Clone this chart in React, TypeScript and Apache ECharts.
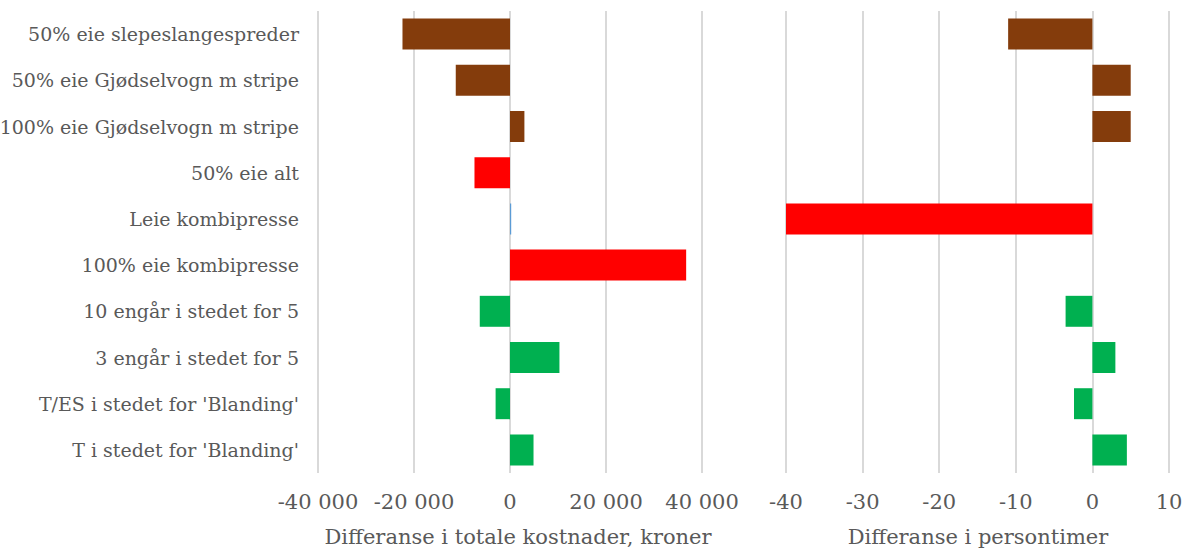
import React, { useEffect, useRef } from "react";
import * as echarts from "echarts";

const categories = [
  "50% eie slepeslangespreder",
  "50% eie Gjødselvogn m stripe",
  "100% eie Gjødselvogn m stripe",
  "50% eie alt",
  "Leie kombipresse",
  "100% eie kombipresse",
  "10 engår i stedet for 5",
  "3 engår i stedet for 5",
  "T/ES i stedet for 'Blanding'",
  "T i stedet for 'Blanding'",
];
const costValues = [-22400, -11300, 3000, -7400, 250, 36700, -6300, 10300, -3000, 4900];
const hourValues = [-11, 5, 5, 0, -40, 0, -3.5, 3, -2.4, 4.5];
const barColors = ["#843C0C", "#843C0C", "#843C0C", "#FF0000", "#FF0000", "#FF0000", "#00B050", "#00B050", "#00B050", "#00B050"];
const costBarColors = ["#843C0C", "#843C0C", "#843C0C", "#FF0000", "#5B9BD5", "#FF0000", "#00B050", "#00B050", "#00B050", "#00B050"];
const costTitle = "Differanse i totale kostnader, kroner";
const hourTitle = "Differanse i persontimer";

const FONT = "DejaVu Serif";
const TEXT = "#595959";
const GRID = "#D9D9D9";
const CAT_FS = 19;
const TICK_FS = 21;
const TITLE_FS = 21;

export default function App() {
  const ref = useRef<HTMLDivElement>(null);
  useEffect(() => {
    if (!ref.current) return;
    const chart = echarts.init(ref.current, undefined, { renderer: "svg" });
    const fmt = (v: number) => {
      const s = Math.abs(v).toString().replace(/\B(?=(\d{3})+(?!\d))/g, " ");
      return (v < 0 ? "-" : "") + s;
    };
    chart.setOption({
      animation: false,
      textStyle: { fontFamily: FONT },
      grid: [
        { left: 318, width: 384, top: 11, height: 462, containLabel: false, outerBoundsMode: "none" },
        { left: 786, width: 383, top: 11, height: 462, containLabel: false, outerBoundsMode: "none" },
      ],
      xAxis: [
        {
          gridIndex: 0, type: "value", min: -40000, max: 40000, interval: 20000,
          axisLine: { show: false }, axisTick: { show: false },
          splitLine: { lineStyle: { color: GRID, width: 2 } },
          axisLabel: { color: TEXT, fontSize: TICK_FS, fontFamily: FONT, margin: 18, formatter: fmt },
        },
        {
          gridIndex: 1, type: "value", min: -40, max: 10, interval: 10,
          axisLine: { show: false }, axisTick: { show: false },
          splitLine: { lineStyle: { color: GRID, width: 2 } },
          axisLabel: { color: TEXT, fontSize: TICK_FS, fontFamily: FONT, margin: 18 },
        },
      ],
      yAxis: [
        {
          gridIndex: 0, type: "category", data: categories, inverse: true,
          axisLine: { show: false }, axisTick: { show: false },
          axisLabel: { color: TEXT, fontSize: CAT_FS, fontFamily: FONT, margin: 19 },
        },
        {
          gridIndex: 1, type: "category", data: categories, inverse: true,
          axisLine: { show: false }, axisTick: { show: false },
          axisLabel: { show: false },
        },
      ],
      series: [
        {
          type: "bar", xAxisIndex: 0, yAxisIndex: 0, barWidth: "67%",
          data: costValues.map((v, i) => ({ value: v, itemStyle: { color: costBarColors[i] } })),
        },
        {
          type: "bar", xAxisIndex: 1, yAxisIndex: 1, barWidth: "67%",
          data: hourValues.map((v, i) => ({ value: v, itemStyle: { color: barColors[i] } })),
        },
      ],
      graphic: [
        {
          type: "text", x: 518, y: 537, style: {
            text: costTitle, fill: TEXT, font: `${TITLE_FS}px "${FONT}"`, textAlign: "center", textVerticalAlign: "middle",
          },
        },
        {
          type: "text", x: 978, y: 537, style: {
            text: hourTitle, fill: TEXT, font: `${TITLE_FS}px "${FONT}"`, textAlign: "center", textVerticalAlign: "middle",
          },
        },
      ],
    });
    return () => chart.dispose();
  }, []);
  return (
    <div
      ref={ref}
      style={{ position: "fixed", left: 0, top: 0, width: 1189, height: 550, background: "#fff" }}
    />
  );
}
